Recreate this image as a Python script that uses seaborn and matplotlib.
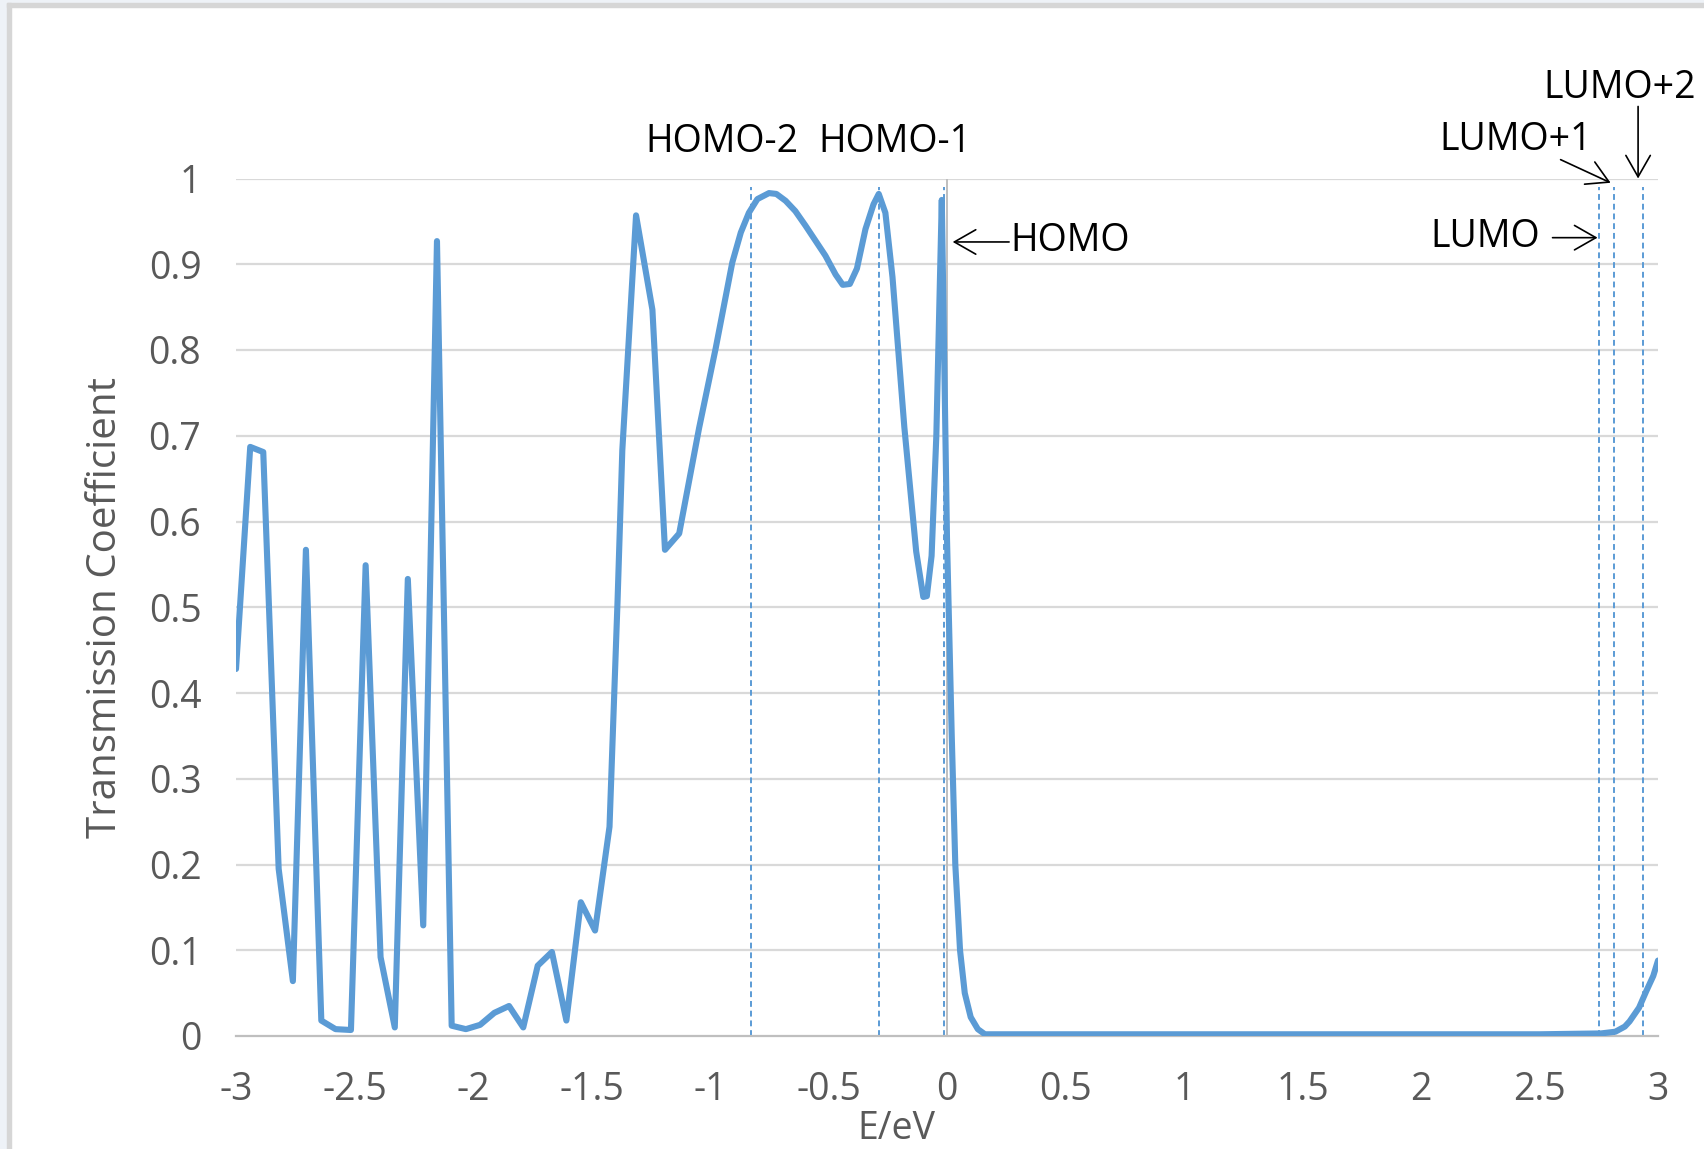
import numpy as np
import pandas as pd
import matplotlib
matplotlib.use("Agg")
import matplotlib.pyplot as plt
from matplotlib.patches import Rectangle
import seaborn as sns

# ---------------- data ----------------
energy = [-3.00, -2.94, -2.885, -2.82, -2.76, -2.705, -2.64, -2.58, -2.515,
          -2.453, -2.39, -2.33, -2.275, -2.21, -2.152, -2.09, -2.03, -1.97,
          -1.91, -1.848, -1.788, -1.727, -1.667, -1.606, -1.545, -1.485,
          -1.424, -1.39, -1.37, -1.312, -1.243, -1.19, -1.13, -1.046, -0.976,
          -0.906, -0.87, -0.836, -0.80, -0.751, -0.72, -0.681, -0.64, -0.597,
          -0.513, -0.47, -0.44, -0.41, -0.38, -0.344, -0.31, -0.288, -0.26,
          -0.23, -0.18, -0.13, -0.10, -0.085, -0.065, -0.045, -0.03,
          -0.022, 0.0, 0.02, 0.035, 0.055, 0.075, 0.10, 0.13, 0.16, 0.5,
          1.0, 1.5, 2.0, 2.5, 2.76, 2.82, 2.86, 2.88, 2.92, 2.95, 2.98, 3.0]
transmission = [0.428, 0.687, 0.681, 0.195, 0.064, 0.567, 0.018, 0.008, 0.007,
                0.549, 0.092, 0.010, 0.533, 0.129, 0.927, 0.012, 0.008, 0.013,
                0.027, 0.035, 0.010, 0.082, 0.098, 0.018, 0.156, 0.123,
                0.244, 0.508, 0.683, 0.957, 0.847, 0.567, 0.586, 0.709, 0.802,
                0.902, 0.937, 0.960, 0.976, 0.983, 0.982, 0.974, 0.962, 0.945,
                0.910, 0.888, 0.876, 0.877, 0.895, 0.941, 0.970, 0.982, 0.960,
                0.885, 0.71, 0.565, 0.512, 0.513, 0.56, 0.70, 0.88,
                0.975, 0.58, 0.35, 0.20, 0.10, 0.05, 0.022, 0.008, 0.002, 0.002,
                0.002, 0.002, 0.002, 0.002, 0.003, 0.005, 0.011, 0.017, 0.033, 0.052, 0.070, 0.088]

orbital_names = ["HOMO-2", "HOMO-1", "HOMO", "LUMO", "LUMO+1", "LUMO+2"]
orbital_energy = [-0.826, -0.288, -0.012, 2.752, 2.815, 2.935]

x_ticks = [-3, -2.5, -2, -1.5, -1, -0.5, 0, 0.5, 1, 1.5, 2, 2.5, 3]
x_tick_labels = ["-3", "-2.5", "-2", "-1.5", "-1", "-0.5", "0", "0.5", "1", "1.5", "2", "2.5", "3"]
y_ticks = [0, 0.1, 0.2, 0.3, 0.4, 0.5, 0.6, 0.7, 0.8, 0.9, 1]
y_tick_labels = ["0", "0.1", "0.2", "0.3", "0.4", "0.5", "0.6", "0.7", "0.8", "0.9", "1"]

df = pd.DataFrame({"E": energy, "T": transmission})

# ---------------- style ----------------
sns.set_style("white")
plt.rcParams["font.family"] = ["Open Sans", "DejaVu Sans"]

BLUE = "#5B9BD5"
GRID = "#d9d9d9"
AXIS = "#bfbfbf"
TXT = "#595959"
FS = 27

W, H = 1704, 1149
fig = plt.figure(figsize=(W / 100, H / 100), dpi=100)
left, right, top, bottom = 236, 1658, 178.5, 1036
ax = fig.add_axes([left / W, 1 - bottom / H, (right - left) / W, (bottom - top) / H])

# frame of the chart area
fig.add_artist(Rectangle((0, 0), 7 / W, 1, transform=fig.transFigure, color="#eef2f7", zorder=0))
fig.add_artist(Rectangle((0, 1 - 3 / H), 1, 3 / H, transform=fig.transFigure, color="#eef2f7", zorder=0))
fig.add_artist(Rectangle((7 / W, 0), 4 / W, 1 - 3 / H, transform=fig.transFigure, color="#d6d6d6", zorder=0))
fig.add_artist(Rectangle((7 / W, 1 - 7 / H), 1, 4 / H, transform=fig.transFigure, color="#d6d6d6", zorder=0))

ax.set_xlim(-3, 3)
ax.set_ylim(0, 1)

# grid
for yv in y_ticks[1:]:
    ax.axhline(yv, color=GRID, lw=1.6, zorder=0)
ax.axvline(0, color=AXIS, lw=1.4, zorder=1)

# orbital lines
ax.vlines(orbital_energy, 0, 0.99, colors=BLUE, linestyles=(0, (3, 2)), lw=1.4, zorder=2)

sns.lineplot(data=df, x="E", y="T", ax=ax, color=BLUE, lw=4.4, sort=False,
             estimator=None, zorder=3)

# spines / ticks
for s in ["left", "right", "top"]:
    ax.spines[s].set_visible(False)
ax.spines["bottom"].set_color(AXIS)
ax.spines["bottom"].set_linewidth(1.6)

ax.set_xticks(x_ticks)
ax.set_xticklabels(x_tick_labels)
ax.set_xticks(np.round(np.arange(-3, 3.01, 0.1), 2), minor=True)
ax.tick_params(axis="x", which="both", direction="inout", length=12, width=1.4,
               color=AXIS, labelsize=FS, labelcolor=TXT, pad=19)
ax.set_yticks(y_ticks)
ax.set_yticklabels(y_tick_labels)
ax.tick_params(axis="y", length=0, labelsize=FS, labelcolor=TXT, pad=25)

ax.set_xlabel("E/eV", fontsize=FS, color=TXT)
ax.xaxis.set_label_coords((896 - left) / (right - left), -0.086)
ax.set_ylabel("Transmission Coefficient", fontsize=29, color=TXT)
ax.yaxis.set_label_coords((126 - left) / (right - left), 0.5)

# annotations
ax.text(-0.949, 1.042, "HOMO-2", ha="center", va="center", fontsize=FS, color="black", clip_on=False)
ax.text(-0.221, 1.042, "HOMO-1", ha="center", va="center", fontsize=FS, color="black", clip_on=False)
aprops = dict(arrowstyle="->,head_length=0.7,head_width=0.4", color="black", lw=1.2,
              shrinkA=0, shrinkB=0, mutation_scale=22)
ax.annotate("", xy=(0.024, 0.926), xytext=(0.262, 0.926), arrowprops=aprops, annotation_clip=False)
ax.text(0.266, 0.927, "HOMO", ha="left", va="center", fontsize=FS, color="black", clip_on=False)
ax.annotate("", xy=(2.745, 0.931), xytext=(2.555, 0.931), arrowprops=aprops, annotation_clip=False)
ax.text(2.50, 0.932, "LUMO", ha="right", va="center", fontsize=FS, color="black", clip_on=False)
ax.annotate("", xy=(2.80, 0.995), xytext=(2.589, 1.022), arrowprops=aprops, annotation_clip=False)
ax.text(2.399, 1.045, "LUMO+1", ha="center", va="center", fontsize=FS, color="black", clip_on=False)
ax.annotate("", xy=(2.916, 1.0), xytext=(2.916, 1.084), arrowprops=aprops, annotation_clip=False)
ax.text(2.837, 1.105, "LUMO+2", ha="center", va="center", fontsize=FS, color="black", clip_on=False)

fig.savefig("out.png", dpi=100)
